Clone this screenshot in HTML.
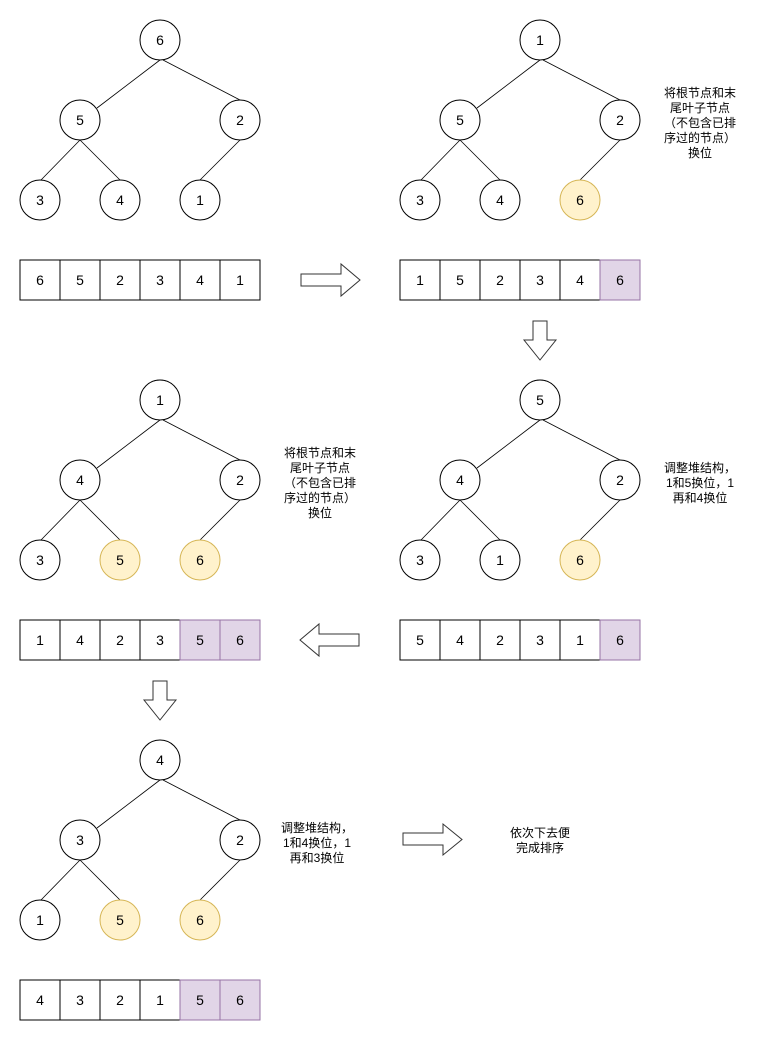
<!DOCTYPE html>
<html><head><meta charset="utf-8"><style>body{margin:0;background:#fff}svg{display:block}text{font-family:"Liberation Sans","Noto Sans CJK SC",sans-serif;font-size:12px;fill:#000}text.n{font-size:14px}</style></head><body>
<svg width="761" height="1041" viewBox="0 0 761 1041" xmlns="http://www.w3.org/2000/svg">
<defs>
<g id="edges" stroke="#000" stroke-width="0.8" fill="none">
<line x1="160" y1="60" x2="97" y2="108"/><line x1="163" y1="60" x2="240" y2="100"/>
<line x1="80" y1="140" x2="41" y2="180"/><line x1="80" y1="140" x2="120" y2="180"/>
<line x1="240" y1="140" x2="200" y2="180"/>
</g>
</defs>
<g id="all">
</g>
<script>
const S='http://www.w3.org/2000/svg',g=document.getElementById('all');
function el(t,a,txt){const e=document.createElementNS(S,t);for(const k in a)e.setAttribute(k,a[k]);if(txt!==undefined)e.textContent=txt;g.appendChild(e);return e;}
const Y='#fff2cc',YS='#d6b656',P='#e1d5e7',PS='#9673a6';
function tree(dx,dy,v,hl){
 el('use',{href:'#edges',transform:`translate(${dx},${dy})`});
 const pos=[[160,40],[80,120],[240,120],[40,200],[120,200],[200,200]];
 pos.forEach((p,i)=>{const h=hl.includes(i);
  el('circle',{cx:p[0]+dx,cy:p[1]+dy,r:20,fill:h?Y:'#fff',stroke:h?YS:'#000'});
  el('text',{x:p[0]+dx,y:p[1]+dy+5,'text-anchor':'middle',class:'n'},v[i]);});
}
function arr(dx,dy,v,n){
 v.forEach((t,i)=>{const h=i>=6-n;
  el('rect',{x:20+dx+i*40,y:260+dy,width:40,height:40,fill:h?P:'#fff',stroke:h?PS:'#000'});});
 v.forEach((t,i)=>el('text',{x:40+dx+i*40,y:285+dy,'text-anchor':'middle',class:'n'},t));
}
function lines(cx,y,arrL){arrL.forEach((t,i)=>el('text',{x:cx,y:y+i*15,'text-anchor':'middle'},t));}
tree(0,0,[6,5,2,3,4,1],[]);arr(0,0,[6,5,2,3,4,1],0);
tree(380,0,[1,5,2,3,4,6],[5]);arr(380,0,[1,5,2,3,4,6],1);
tree(0,360,[1,4,2,3,5,6],[4,5]);arr(0,360,[1,4,2,3,5,6],2);
tree(380,360,[5,4,2,3,1,6],[5]);arr(380,360,[5,4,2,3,1,6],1);
tree(0,720,[4,3,2,1,5,6],[4,5]);arr(0,720,[4,3,2,1,5,6],2);
const A={fill:'#fff',stroke:'#333','stroke-width':1};
el('path',Object.assign({d:'M301,274H341V264L360,280L341,296V286H301Z'},A));
el('path',Object.assign({d:'M359,634H319V624L300,640L319,656V646H359Z'},A));
el('path',Object.assign({d:'M403,833H443V824L462,839.5L443,855V845H403Z'},A));
el('path',Object.assign({d:'M533,321V340H524L540,360L556,340H547V321Z'},A));
el('path',Object.assign({d:'M153,681V700H144L160,720L176,700H167V681Z'},A));
lines(700,97,['将根节点和末','尾叶子节点','（不包含已排','序过的节点）','换位']);
lines(320,457,['将根节点和末','尾叶子节点','（不包含已排','序过的节点）','换位']);
lines(700,472,['调整堆结构，','1和5换位，1','再和4换位']);
lines(317,832,['调整堆结构，','1和4换位，1','再和3换位']);
lines(540,837,['依次下去便','完成排序']);
</script>
</svg>
</body></html>
